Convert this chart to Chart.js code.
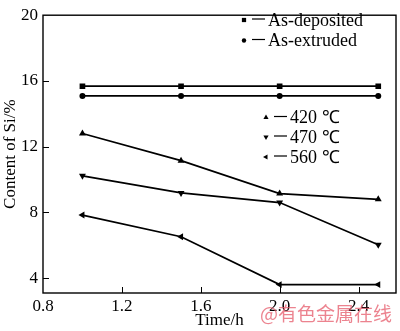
<!DOCTYPE html>
<html>
<head>
<meta charset="utf-8">
<script src="https://cdn.jsdelivr.net/npm/chart.js@4.4.1/dist/chart.umd.min.js"></script>
<style>
  html, body { margin: 0; padding: 0; background: #fff; }
  #wrap { width: 400px; height: 331px; position: relative; }
</style>
</head>
<body>
<div id="wrap"><canvas id="siChart"></canvas></div>
<script>
// Si content vs. annealing time
const times = [1.0, 1.5, 2.0, 2.5];
const asDeposited = [15.68, 15.68, 15.68, 15.68];
const asExtruded = [15.09, 15.09, 15.09, 15.09];
const temp420 = [12.8, 11.15, 9.15, 8.8];
const temp470 = [10.23, 9.19, 8.6, 6.04];
const temp560 = [7.84, 6.52, 3.61, 3.61];

const xTicks = [0.8, 1.2, 1.6, 2.0, 2.4];
const yTicks = [4, 8, 12, 16, 20];

const serif = "'Liberation Serif', 'Times New Roman', serif";

function toPoints(values) {
  return values.map((v, i) => ({ x: times[i], y: v }));
}

function series(label, values, style, radius, rotation) {
  return {
    label: label,
    data: toPoints(values),
    showLine: true,
    borderColor: '#000',
    backgroundColor: '#000',
    borderWidth: 1.7,
    pointStyle: style,
    pointRadius: radius,
    pointRotation: rotation || 0,
    pointBorderWidth: 0,
    pointBackgroundColor: '#000'
  };
}

const datasets = [
  series('As-deposited', asDeposited, 'rect', 4),
  series('As-extruded', asExtruded, 'circle', 3),
  series('420 ℃', temp420, 'triangle', 4),
  series('470 ℃', temp470, 'triangle', 4, 180),
  series('560 ℃', temp560, 'triangle', 4, 270)
];

// legend entries: marker, short dash, text
const legendItems = [
  { text: 'As-deposited', style: 'rect', r: 3, rot: 0, x: 244, y: 20 },
  { text: 'As-extruded', style: 'circle', r: 2.2, rot: 0, x: 244, y: 40.5 },
  { text: '420 ℃', style: 'triangle', r: 3, rot: 0, x: 266, y: 117.5 },
  { text: '470 ℃', style: 'triangle', r: 3, rot: 180, x: 266, y: 137 },
  { text: '560 ℃', style: 'triangle', r: 3, rot: 270, x: 266, y: 157 }
];

const framePlugin = {
  id: 'frame',
  afterDraw(chart) {
    const ctx = chart.ctx;
    const a = chart.chartArea;
    const xs = chart.scales.x;
    const ys = chart.scales.y;
    ctx.save();
    ctx.strokeStyle = '#000';
    ctx.lineWidth = 1.4;
    ctx.strokeRect(a.left, a.top, a.right - a.left, a.bottom - a.top);
    // inward ticks
    ctx.lineWidth = 1;
    ctx.beginPath();
    xTicks.slice(1).forEach(v => {
      const px = Math.round(xs.getPixelForValue(v)) + 0.5;
      ctx.moveTo(px, a.bottom);
      ctx.lineTo(px, a.bottom - 6);
    });
    yTicks.slice(0, -1).forEach(v => {
      const py = Math.round(ys.getPixelForValue(v)) + 0.5;
      ctx.moveTo(a.left, py);
      ctx.lineTo(a.left + 6, py);
    });
    ctx.stroke();

    // legend
    ctx.fillStyle = '#000';
    ctx.font = '18px ' + serif;
    ctx.textBaseline = 'middle';
    legendItems.forEach(it => {
      Chart.helpers.drawPoint(ctx, { pointStyle: it.style, radius: it.r, rotation: it.rot, borderWidth: 0 }, it.x, it.y);
      ctx.beginPath();
      ctx.lineWidth = 1.2;
      ctx.moveTo(it.x + 8, it.y - 1);
      ctx.lineTo(it.x + 21, it.y - 1);
      ctx.stroke();
      ctx.fillText(it.text, it.x + 24, it.y + 1);
    });

    // site mark
    ctx.font = '19px "Noto Sans CJK SC", sans-serif';
    ctx.fillStyle = 'rgba(230, 90, 105, 0.75)';
    ctx.textBaseline = 'middle';
    ctx.fillText('@有色金属在线', 260, 314);
    ctx.restore();
  }
};

function draw() {
  new Chart(document.getElementById('siChart'), {
    type: 'scatter',
    data: { datasets: datasets },
    options: {
      responsive: true,
      maintainAspectRatio: false,
      animation: false,
      layout: { padding: { top: 6, right: 1.5, left: 0, bottom: 0 } },
      plugins: {
        legend: { display: false },
        tooltip: { enabled: false }
      },
      scales: {
        x: {
          type: 'linear',
          min: 0.8,
          max: 2.59,
          afterBuildTicks: s => { s.ticks = xTicks.map(v => ({ value: v })); },
          afterFit: s => { s.height = 38; },
          grid: { display: false, drawTicks: false },
          border: { display: false },
          ticks: {
            color: '#000',
            padding: 3,
            maxRotation: 0,
            font: { family: serif, size: 17 },
            callback: v => Number(v).toFixed(1)
          },
          title: {
            display: true,
            text: 'Time/h',
            color: '#000',
            padding: { top: 2, bottom: 0 },
            font: { family: serif, size: 17 }
          }
        },
        y: {
          type: 'linear',
          min: 3.1,
          max: 20,
          afterBuildTicks: s => { s.ticks = yTicks.map(v => ({ value: v })); },
          afterFit: s => { s.width = 43; },
          grid: { display: false, drawTicks: false },
          border: { display: false },
          ticks: {
            color: '#000',
            padding: 5,
            font: { family: serif, size: 17 }
          },
          title: {
            display: true,
            text: 'Content of Si/%',
            color: '#000',
            padding: { top: 0, bottom: 0 },
            font: { family: serif, size: 17 }
          }
        }
      }
    },
    plugins: [framePlugin]
  });
}

// canvas text needs the faces loaded before the first paint
Promise.all([
  document.fonts.load('17px "Liberation Serif"'),
  document.fonts.load('19px "Noto Sans CJK SC"', '有色金属在线')
]).then(draw, draw);
</script>
</body>
</html>
